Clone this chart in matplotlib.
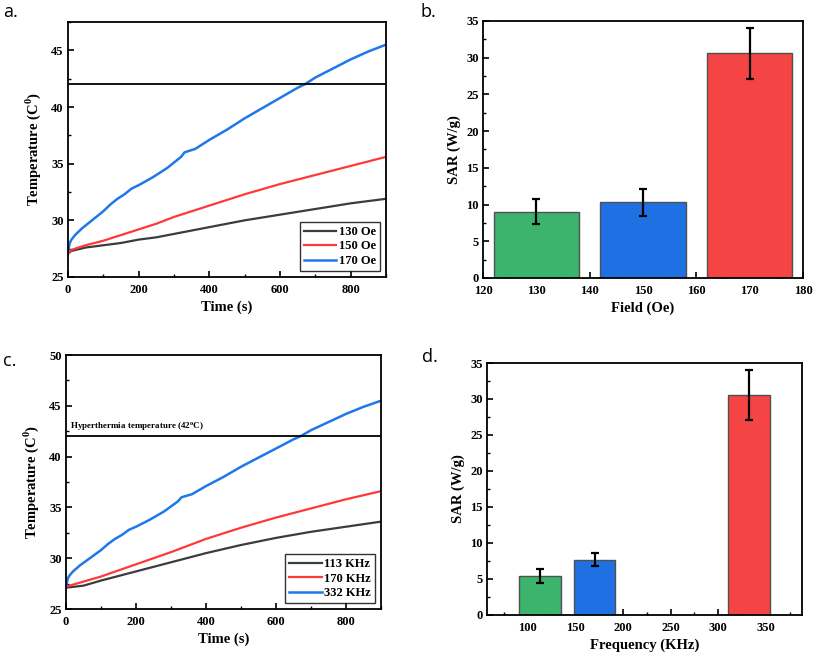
import matplotlib
matplotlib.use("Agg")
import matplotlib.pyplot as plt
from matplotlib.ticker import MultipleLocator
import numpy as np

plt.rcParams['font.family'] = ['Liberation Serif', 'DejaVu Serif']
plt.rcParams['font.weight'] = 'bold'
plt.rcParams['mathtext.fontset'] = 'custom'
plt.rcParams['mathtext.rm'] = 'Liberation Serif:bold'
plt.rcParams['mathtext.bf'] = 'Liberation Serif:bold'

# ---- Panel a data ----
t_a_blue = [0, 5, 10, 20, 40, 60, 80, 100, 120, 140, 160, 180, 200, 240, 280, 320, 330, 360, 400, 450, 500, 550, 600, 650, 670, 700, 750, 800, 850, 900]
T_a_blue = [27.2, 28.0, 28.3, 28.7, 29.3, 29.8, 30.3, 30.8, 31.4, 31.9, 32.3, 32.8, 33.1, 33.8, 34.6, 35.6, 36.0, 36.3, 37.1, 38.0, 39.0, 39.9, 40.8, 41.7, 42.0, 42.6, 43.4, 44.2, 44.9, 45.5]
t_a = [0, 10, 50, 100, 150, 200, 250, 300, 350, 400, 450, 500, 600, 700, 800, 900]
T_a_red = [27.0, 27.4, 27.8, 28.2, 28.7, 29.2, 29.7, 30.3, 30.8, 31.3, 31.8, 32.3, 33.2, 34.0, 34.8, 35.6]
T_a_black = [27.1, 27.3, 27.6, 27.8, 28.0, 28.3, 28.5, 28.8, 29.1, 29.4, 29.7, 30.0, 30.5, 31.0, 31.5, 31.9]
labels_a = ['130 Oe', '150 Oe', '170 Oe']

# ---- Panel b data ----
field = [130, 150, 170]
sar_field = [9.0, 10.3, 30.6]
sar_field_err = [1.7, 1.8, 3.45]

# ---- Panel c data ----
t_c = [0, 50, 100, 200, 300, 400, 500, 600, 700, 800, 900]
T_c_black = [27.1, 27.3, 27.8, 28.7, 29.6, 30.5, 31.3, 32.0, 32.6, 33.1, 33.6]
T_c_red = [27.2, 27.7, 28.2, 29.4, 30.6, 31.9, 33.0, 34.0, 34.9, 35.8, 36.6]
T_c_blue = T_a_blue
t_c_blue = t_a_blue
labels_c = ['113 KHz', '170 KHz', '332 KHz']

# ---- Panel d data ----
freq = [113, 170, 332]
sar_freq = [5.45, 7.7, 30.6]
sar_freq_err = [0.95, 0.9, 3.45]

hyper_T = 42

c_black = '#3c3c3c'
c_red = '#ff3838'
c_blue = '#1f78e8'
bar_colors = ['#3cb46e', '#1f70e2', '#f44444']

fig = plt.figure(figsize=(8.13, 6.55), dpi=100)

def style(ax):
    for s in ax.spines.values():
        s.set_linewidth(1.3)
        s.set_color('black')
    ax.tick_params(which='major', direction='in', length=4, width=1.2, labelsize=9,
                   top=False, right=False, pad=3)
    ax.tick_params(axis='x', which='major', pad=5)
    ax.tick_params(which='minor', direction='in', length=2, width=1.0, top=False, right=False)
    for lab in ax.get_xticklabels() + ax.get_yticklabels():
        lab.set_fontweight('bold')

def temp_panel(ax, tb, Tb, tr, Tr, tk, Tk, labels, ylim, hyper_text):
    ax.plot(tk, Tk, color=c_black, lw=1.6, label=labels[0])
    ax.plot(tr, Tr, color=c_red, lw=1.6, label=labels[1])
    ax.plot(tb, Tb, color=c_blue, lw=1.8, label=labels[2])
    ax.axhline(hyper_T, color='black', lw=1.3)
    ax.set_xlim(0, 900)
    ax.set_ylim(*ylim)
    ax.xaxis.set_major_locator(MultipleLocator(200))
    ax.xaxis.set_minor_locator(MultipleLocator(100))
    ax.yaxis.set_major_locator(MultipleLocator(5))
    ax.yaxis.set_minor_locator(MultipleLocator(2.5))
    ax.set_xlabel('Time (s)', fontsize=10.5, fontweight='bold', labelpad=3)
    ax.set_ylabel(r'Temperature (C$^0$)', fontsize=10.5, fontweight='bold', labelpad=6)
    leg = ax.legend(loc='lower right', frameon=True, fancybox=False,
                    edgecolor='black', handlelength=2.6, borderpad=0.3, labelspacing=0.2,
                    handletextpad=0.2, borderaxespad=0.5, prop={'weight': 'bold', 'size': 9})
    leg.get_frame().set_linewidth(1.0)
    if hyper_text:
        ax.text(10, hyper_T + 0.35, r'Hyperthermia temperature (42$^{\mathbf{o}}$C)',
                fontsize=6.5, fontweight='bold', va='bottom', ha='left')
    style(ax)

def bar_panel(ax, x, y, err, width, xlim, xmaj, xmin, xlabel):
    ax.bar(x, y, width=width, color=bar_colors, edgecolor='#505050', linewidth=1.0, zorder=2)
    ax.errorbar(x, y, yerr=err, fmt='none', ecolor='black', elinewidth=1.6, capsize=3,
                capthick=1.6, zorder=3)
    ax.set_xlim(*xlim)
    ax.set_ylim(0, 35)
    ax.xaxis.set_major_locator(MultipleLocator(xmaj))
    ax.xaxis.set_minor_locator(MultipleLocator(xmin))
    ax.yaxis.set_major_locator(MultipleLocator(5))
    ax.yaxis.set_minor_locator(MultipleLocator(2.5))
    ax.set_xlabel(xlabel, fontsize=10.5, fontweight='bold', labelpad=3)
    ax.set_ylabel('SAR (W/g)', fontsize=10.5, fontweight='bold', labelpad=4)
    style(ax)

ax_a = fig.add_axes([0.0836, 0.5771, 0.3912, 0.3893])
temp_panel(ax_a, t_a_blue, T_a_blue, t_a, T_a_red, t_a, T_a_black, labels_a, (25, 47.5), False)

ax_b = fig.add_axes([0.594, 0.5756, 0.3937, 0.3924])
bar_panel(ax_b, field, sar_field, sar_field_err, 16, (120, 180), 10, 5, 'Field (Oe)')

ax_c = fig.add_axes([0.0812, 0.0702, 0.3874, 0.3878])
temp_panel(ax_c, t_c_blue, T_c_blue, t_c, T_c_red, t_c, T_c_black, labels_c, (25, 50), True)

ax_d = fig.add_axes([0.599, 0.0611, 0.3875, 0.3847])
bar_panel(ax_d, freq, sar_freq, sar_freq_err, 44, (57, 388), 50, 25, 'Frequency (KHz)')
ax_d.set_xticks([100, 150, 200, 250, 300, 350])

pl_kw = dict(fontsize=13, family=['Open Sans', 'DejaVu Sans'], fontweight='normal', va='top', ha='left')
fig.text(0.004, 0.995, 'a.', **pl_kw)
fig.text(0.517, 0.995, 'b.', **pl_kw)
fig.text(0.004, 0.463, 'c.', **pl_kw)
fig.text(0.519, 0.468, 'd.', **pl_kw)

fig.savefig('out.png', dpi=100)
